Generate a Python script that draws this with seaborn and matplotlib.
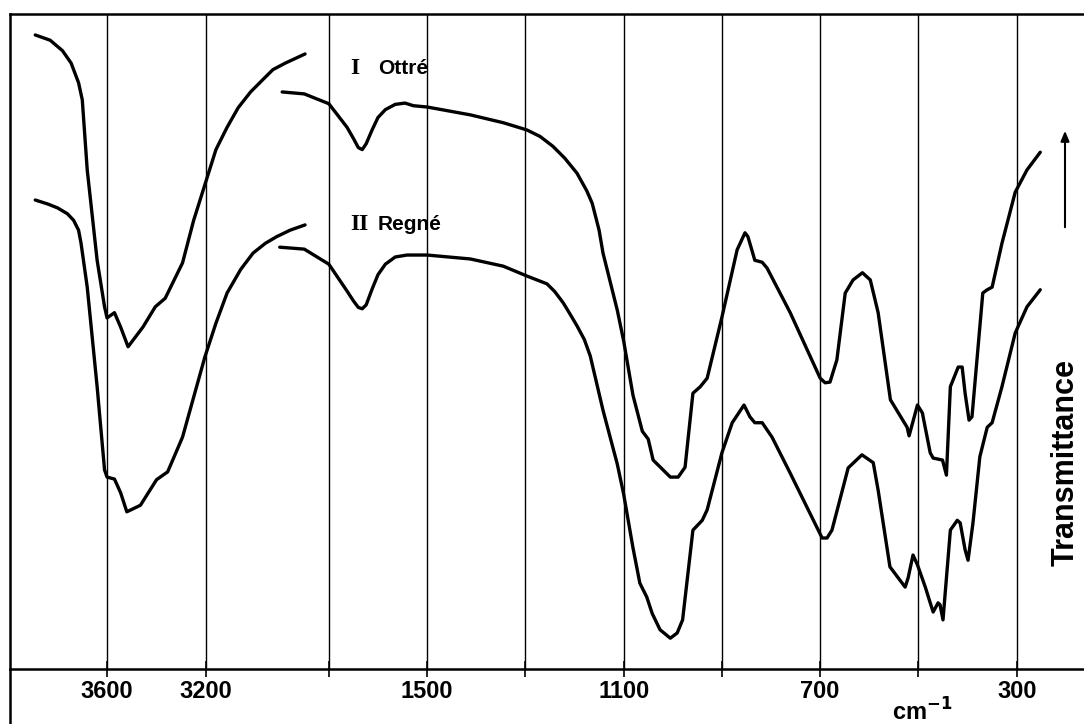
import numpy as np
import seaborn as sns
import matplotlib.pyplot as plt
from matplotlib.lines import Line2D
from matplotlib.patches import FancyArrowPatch

# IR spectra of two samples, split chart: 4000-2800 cm-1 at half scale, 1800-250 cm-1
# --- Ottré, high-wavenumber part ---
ottre_hi_nu = [3890, 3830, 3780, 3745, 3715, 3700, 3680, 3640, 3610, 3600, 3570, 3545, 3515,
               3455, 3405, 3365, 3295, 3250, 3195, 3160, 3115, 3070, 3020, 2970, 2930,
               2880, 2800]
ottre_hi_t = [96.8, 96.0, 94.4, 92.5, 89.5, 86.9, 76.2, 62.4, 55.3, 53.6, 54.4, 52.2, 49.2,
              52.2, 55.3, 56.6, 62.0, 68.5, 75.1, 79.3, 82.7, 85.7, 88.1, 90.0, 91.5,
              92.5, 93.9]

# --- Regné, high-wavenumber part ---
regne_hi_nu = [3890, 3840, 3800, 3760, 3735, 3715, 3705, 3680, 3640, 3610, 3600, 3570, 3545, 3520,
               3465, 3400, 3355, 3295, 3250, 3205, 3160, 3115, 3060, 3010, 2960, 2915,
               2860, 2800]
regne_hi_t = [71.6, 71.0, 70.4, 69.5, 68.5, 67.0, 65.0, 58.3, 43.1, 30.4, 29.3, 29.0, 26.9, 24.0,
              25.0, 28.9, 30.1, 35.4, 41.5, 47.6, 52.8, 57.4, 61.0, 63.5, 65.0, 66.0,
              67.0, 67.8]

# --- Ottré, low-wavenumber part ---
ottre_lo_nu = [1795, 1750, 1700, 1663, 1650, 1640, 1632, 1624, 1612, 1600, 1585, 1565,
               1545, 1528, 1500,
               1412, 1345, 1297, 1270, 1244, 1220, 1195, 1175, 1164, 1150, 1142, 1113,
               1100, 1081, 1062,
               1050, 1040, 1005, 989, 975, 959, 944, 930, 900, 869, 853, 847,
               833, 818, 808, 761, 700, 690, 680, 666, 649, 633, 614, 598, 582,
               557, 523, 519, 502, 492, 476, 470, 451, 443, 435, 419, 411, 405,
               397, 391, 369, 360, 350, 330, 303, 279, 252]
ottre_lo_t = [88.1, 87.8, 86.3, 82.7, 81.0, 79.6, 79.3, 80.2, 82.3, 84.2, 85.4, 86.2,
              86.4, 86.0, 85.8,
              84.6, 83.4, 82.3, 81.3, 79.8, 78.0, 75.7, 73.0, 71.1, 67.0, 63.5, 54.8,
              50.1, 41.8, 36.3,
              35.1, 31.9, 29.3, 29.3, 30.8, 42.1, 43.1, 44.4, 53.7, 64.0, 66.6, 66.0,
              62.4, 62.1, 61.2, 54.4, 44.4, 43.7, 43.8, 47.2, 57.4, 59.4, 60.5, 59.4, 54.4,
              41.1, 36.9, 35.6, 40.3, 39.1, 33.0, 32.2, 31.9, 29.6, 43.1, 46.1, 46.1, 42.1,
              38.0, 38.5, 57.4, 57.9, 58.3, 65.0, 72.8, 76.2, 78.9]

# --- Regné, low-wavenumber part ---
regne_lo_nu = [1800, 1750, 1700, 1663, 1650, 1640, 1632, 1624, 1612, 1600, 1585, 1565,
               1541, 1500,
               1412, 1345, 1297, 1256, 1240, 1223, 1210, 1195, 1180, 1168, 1142, 1113,
               1100, 1081,
               1067, 1053, 1042, 1026, 1005, 991, 980, 959, 940, 930, 900, 879,
               855, 843, 833, 818, 798, 761, 696, 686, 676, 660, 643, 615, 592,
               582, 558, 527, 521, 511, 502, 486, 476, 470, 460, 456, 450, 435,
               421, 415, 405, 399, 389, 375, 360, 350, 330, 303, 279, 252]
regne_lo_t = [64.4, 64.1, 61.8, 57.7, 56.2, 55.2, 55.0, 55.6, 58.0, 60.2, 61.8, 62.9,
              63.2, 63.2,
              62.6, 61.5, 60.0, 58.8, 57.6, 55.9, 54.3, 52.4, 50.3, 47.8, 39.5, 31.3,
              26.7, 18.5,
              13.1, 11.0, 8.5, 6.0, 4.7, 5.5, 7.5, 21.2, 22.7, 24.3, 33.0, 37.6,
              40.3, 38.5, 37.6, 37.6, 35.4, 29.9, 20.0, 20.0, 21.2, 25.8, 30.7, 32.7, 31.5,
              27.3, 15.6, 12.5, 13.9, 17.4, 15.9, 12.5, 10.1, 8.7, 10.1, 9.8, 7.5, 21.2,
              22.7, 22.3, 18.2, 16.6, 22.3, 32.4, 36.9, 37.6, 43.1, 51.3, 55.3, 57.9]

hi_ticks = [3600, 3200]
lo_ticks = [1700, 1500, 1300, 1100, 900, 700, 500, 300]
lo_labels = ['', '1500', '', '1100', '', '700', '', '300']

sns.set_style('white')
plt.rcParams['font.family'] = ['Liberation Sans', 'DejaVu Sans']
plt.rcParams['text.color'] = 'black'
plt.rcParams['xtick.color'] = 'black'
plt.rcParams['axes.labelcolor'] = 'black'

W, H = 1084, 724
fig = plt.figure(figsize=(W / 100, H / 100), dpi=100)
rect = [10 / W, 55 / H, 1074 / W, 655 / H]
ax_hi = fig.add_axes(rect)
ax_lo = fig.add_axes(rect)
ax_lo.patch.set_alpha(0)

ax_hi.set_xlim(3992, -347)
ax_lo.set_xlim(2349, 163)
for ax in (ax_hi, ax_lo):
    ax.set_ylim(0, 100)
    ax.set_yticks([])

line_kw = dict(color='black', linewidth=2.4, sort=False, estimator=None,
               solid_joinstyle='round', solid_capstyle='round')
sns.lineplot(x=ottre_hi_nu, y=ottre_hi_t, ax=ax_hi, **line_kw)
sns.lineplot(x=regne_hi_nu, y=regne_hi_t, ax=ax_hi, **line_kw)
sns.lineplot(x=ottre_lo_nu, y=ottre_lo_t, ax=ax_lo, **line_kw)
sns.lineplot(x=regne_lo_nu, y=regne_lo_t, ax=ax_lo, **line_kw)
for ax in (ax_hi, ax_lo):
    ax.set_xlabel('')
    ax.set_ylabel('')

# grid and ticks
ax_hi.set_xticks(hi_ticks)
ax_hi.set_xticklabels([str(t) for t in hi_ticks])
ax_lo.set_xticks(lo_ticks)
ax_lo.set_xticklabels(lo_labels)
for ax in (ax_hi, ax_lo):
    ax.xaxis.grid(True, color='black', linewidth=1.0)
    ax.yaxis.grid(False)
    ax.set_axisbelow(True)
    ax.tick_params(axis='x', direction='inout', length=12, width=1.2, pad=2,
                   labelsize=17, bottom=True, colors='black')
    for lab in ax.get_xticklabels():
        lab.set_fontweight('bold')

ax_hi.spines['right'].set_visible(False)
for s in ('left', 'top', 'bottom'):
    ax_hi.spines[s].set_linewidth(1.8)
    ax_hi.spines[s].set_color('black')
for s in ax_lo.spines.values():
    s.set_visible(False)

# left border continues below the axis
fig.add_artist(Line2D([10 / W, 10 / W], [0, 55 / H], color='black', linewidth=1.8))

# sample labels
y1 = 100 * (669 - 68) / 655
y2 = 100 * (669 - 225) / 655
ax_lo.text(1657, y1, 'I', fontsize=17, fontweight='bold',
           family='Liberation Serif', va='center', ha='left')
ax_lo.text(1600, y1, 'Ottré', fontsize=15, fontweight='bold', va='center', ha='left')
ax_lo.text(1657, y2, 'II', fontsize=17, fontweight='bold',
           family='Liberation Serif', va='center', ha='left')
ax_lo.text(1600, y2, 'Regné', fontsize=15, fontweight='bold', va='center', ha='left')

# axis captions
fig.text(922 / W, 1 - 712 / H, r'cm$^{\mathbf{-1}}$', fontsize=17, fontweight='bold',
         ha='center', va='center')
fig.text(1066 / W, 1 - 462 / H, 'Transmittance', fontsize=22, fontweight='bold',
         rotation=90, ha='center', va='center')
fig.add_artist(FancyArrowPatch(
    (1065 / W, 1 - 230 / H), (1065 / W, 1 - 128 / H), transform=fig.transFigure,
    arrowstyle='-|>,head_length=6,head_width=2.5', color='black', linewidth=1.5))

fig.savefig('out.png', dpi=100)
